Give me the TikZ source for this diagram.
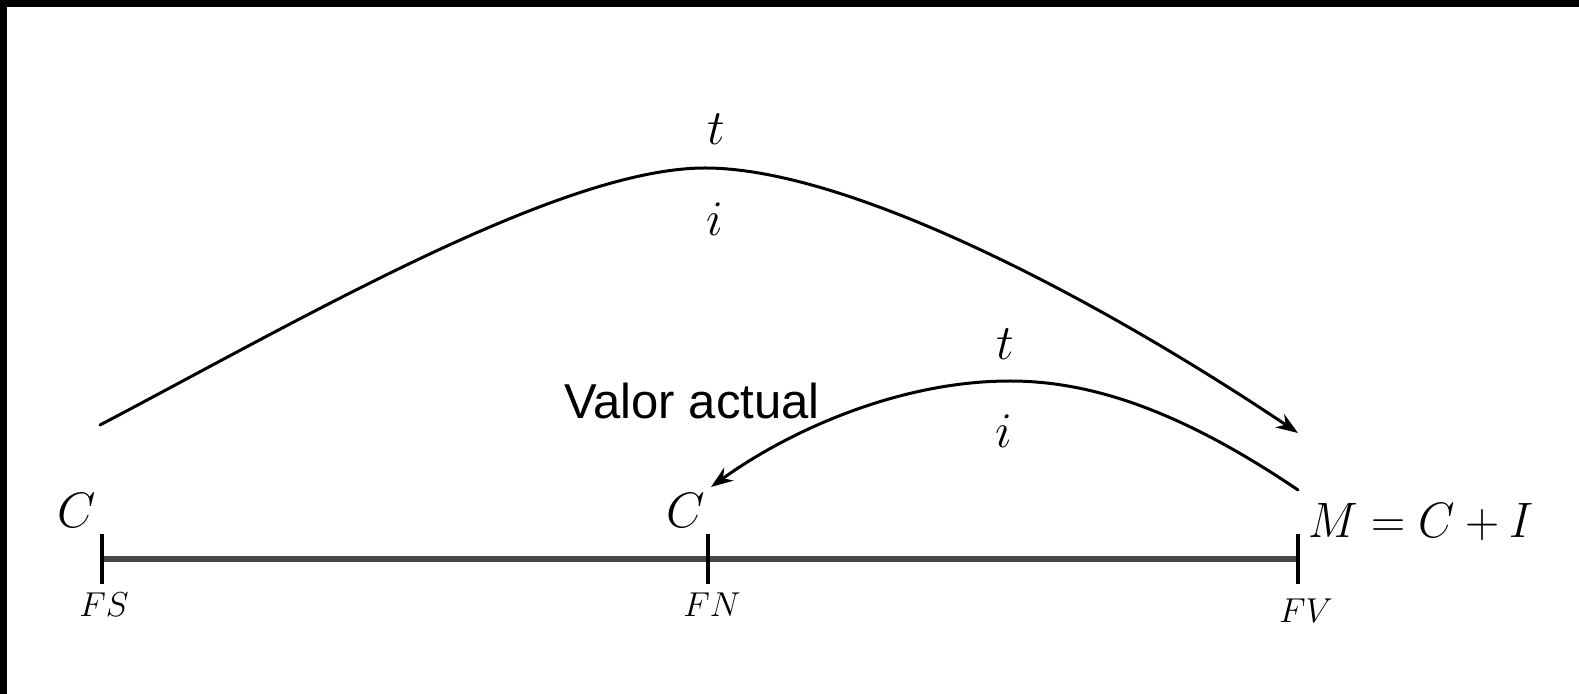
\documentclass[tikz,border=0pt]{standalone}
\usepackage{fontspec}
\usepackage{graphicx}
\newfontfamily\labelsans{Liberation Sans}
\usetikzlibrary{arrows.meta,calc}
\tikzset{
  mathlbl/.style={inner sep=0pt, anchor=base, font=\fontsize{32}{38}\selectfont},
  smalllbl/.style={inner sep=0pt, anchor=base, font=\fontsize{17}{20}\selectfont},
  sanslbl/.style={inner sep=0pt, anchor=base, font=\labelsans\fontsize{24.5}{29}\selectfont},
  arcline/.style={line width=1.5pt, black, line cap=round},
  axisline/.style={line width=3pt, black!72},
  tickmark/.style={line width=2pt, black},
  tiparrow/.style={-{Stealth[length=11pt,width=8pt]}},
  frameband/.style={fill=black, draw=none}
}
\begin{document}
\begin{tikzpicture}[x=0.5pt,y=-0.5pt]
  \useasboundingbox (0,0) rectangle (1579,694);
  \fill[white] (0,0) rectangle (1579,694);
  % black frame bands (top and left)
  \path[frameband] (0,0) rectangle (1579,7);
  \path[frameband] (0,0) rectangle (7,694);

  % axis points
  \coordinate (fs) at (102,559);
  \coordinate (fn) at (708,559);
  \coordinate (fv) at (1298,559);

  \draw[axisline] (fs) -- (fv);
  \foreach \p in {fs,fn,fv} {
    \draw[tickmark] ($(\p)+(0,-25)$) -- ($(\p)+(0,25)$);
  }

  % labels
  \node[mathlbl] (c1) at (77,528) {$C$};
  \node[mathlbl] (c2) at (686,528) {$C$};
  \node[mathlbl, anchor=base west] (m) at (1308,538) {\scalebox{0.95}[1]{$M=C+I$}};
  \node[smalllbl] (lfs) at (104,617) {$FS$};
  \node[smalllbl] (lfn) at (712,617) {$FN$};
  \node[smalllbl] (lfv) at (1306,622) {$FV$};
  \node[sanslbl] (va) at (692,419) {Valor actual};

  % big arc
  \coordinate (a1) at (100,425);
  \coordinate (a2) at (1298,433);
  \draw[arcline, tiparrow] (a1) .. controls (300,320) and (560,168) .. (705,168)
        .. controls (850,168) and (1100,300) .. (a2);
  \node[mathlbl] (t1) at (716,145) {$t$};
  \node[mathlbl] (i1) at (715,236) {$i$};

  % small arc
  \coordinate (b1) at (1298,490);
  \coordinate (b2) at (711,487);
  \draw[arcline, tiparrow] (b1) .. controls (1180,410) and (1090,381) .. (1010,381)
        .. controls (900,381) and (790,430) .. (b2);
  \node[mathlbl] (t2) at (1005,360) {$t$};
  \node[mathlbl] (i2) at (1004,448) {$i$};
\end{tikzpicture}
\end{document}
